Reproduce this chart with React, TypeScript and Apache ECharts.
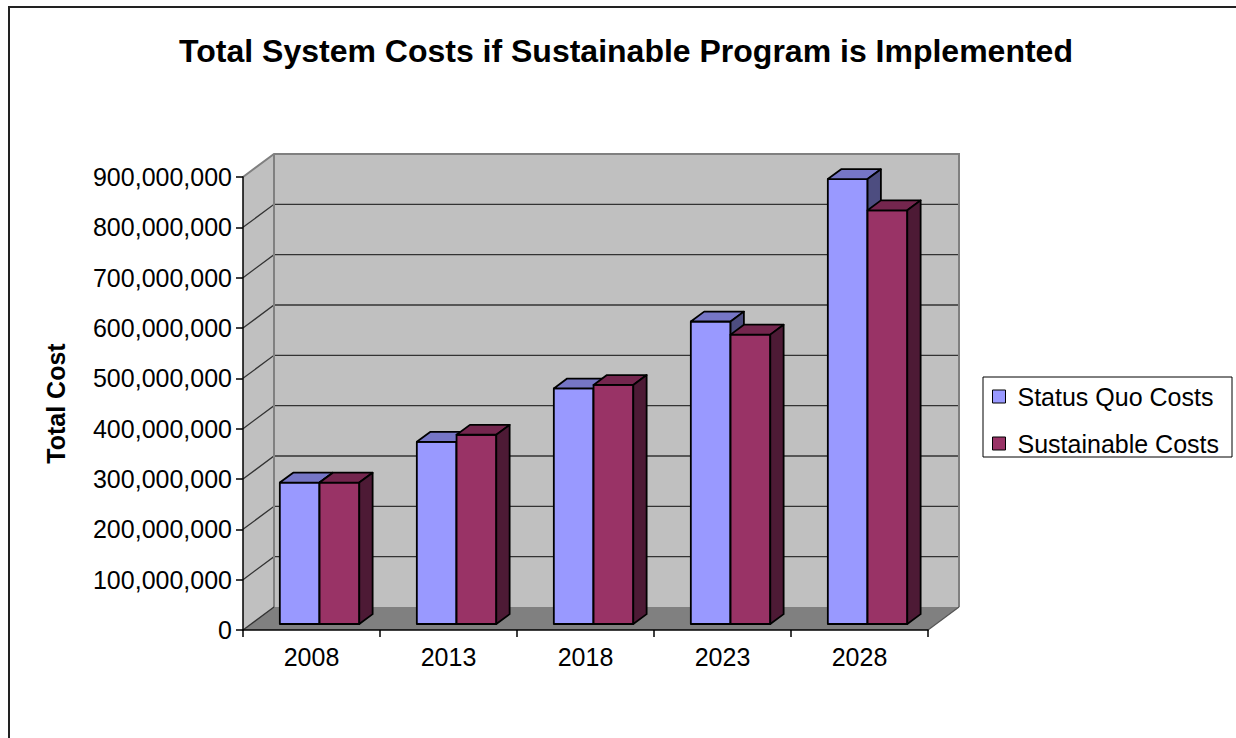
import React, { useEffect, useRef } from "react";
import * as echarts from "echarts";

const chartTitle = "Total System Costs if Sustainable Program is Implemented";
const yAxisTitle = "Total Cost";
const categories = ["2008", "2013", "2018", "2023", "2028"];
const seriesNames = ["Status Quo Costs", "Sustainable Costs"];
const statusQuoCosts = [281000000, 362000000, 468000000, 601000000, 884000000];
const sustainableCosts = [281000000, 376000000, 475000000, 575000000, 822000000];
const yTicks = [0, 100000000, 200000000, 300000000, 400000000, 500000000, 600000000, 700000000, 800000000, 900000000];

const FONT = "'Liberation Sans', Arial, Helvetica, sans-serif";
const WALL_DX = 31;
const WALL_DY = 23;
const BAR_FRONT = 0.26;
const BAR_DEPTH = 0.43;
const BAR_WIDTH_FRAC = 0.29;

const palettes = [
  { front: "#9999ff", top: "#7676c6", side: "#4d4d80" },
  { front: "#993366", top: "#74264e", side: "#4d1a35" },
];

function wallsRenderItem(params: any, api: any) {
  const cs = params.coordSys;
  const x0 = cs.x;
  const x1 = cs.x + cs.width;
  const yBase = api.coord([0, yTicks[0]])[1];
  const yTop = api.coord([0, yTicks[yTicks.length - 1]])[1];
  const dx = WALL_DX;
  const dy = WALL_DY;
  const children: any[] = [];
  children.push({
    type: "polygon",
    shape: { points: [[x0 + dx, yTop - dy], [x1 + dx, yTop - dy], [x1 + dx, yBase - dy], [x0 + dx, yBase - dy]] },
    style: { fill: "#c0c0c0" },
  });
  children.push({
    type: "polygon",
    shape: { points: [[x0, yBase], [x0, yTop], [x0 + dx, yTop - dy], [x0 + dx, yBase - dy]] },
    style: { fill: "#c0c0c0" },
  });
  children.push({
    type: "polygon",
    shape: { points: [[x0, yBase], [x1, yBase], [x1 + dx, yBase - dy], [x0 + dx, yBase - dy]] },
    style: { fill: "#808080" },
  });
  yTicks.slice(1, -1).forEach((v) => {
    const y = api.coord([0, v])[1];
    children.push({
      type: "polyline",
      shape: { points: [[x0, y], [x0 + dx, y - dy], [x1 + dx, y - dy]] },
      style: { stroke: "#333333", lineWidth: 1.3, fill: "none" },
    });
  });
  children.push({
    type: "polyline",
    shape: { points: [[x0, yTop], [x0 + dx, yTop - dy], [x1 + dx, yTop - dy], [x1 + dx, yBase - dy]] },
    style: { stroke: "#808080", lineWidth: 2, fill: "none" },
  });
  children.push({
    type: "line",
    shape: { x1: x0 + dx, y1: yTop - dy, x2: x0 + dx, y2: yBase - dy },
    style: { stroke: "#808080", lineWidth: 2 },
  });
  children.push({
    type: "line",
    shape: { x1: x0, y1: yBase, x2: x0 + dx, y2: yBase - dy },
    style: { stroke: "#333333", lineWidth: 1.3 },
  });
  children.push({
    type: "line",
    shape: { x1: x1, y1: yBase, x2: x1 + dx, y2: yBase - dy },
    style: { stroke: "#555555", lineWidth: 1.2 },
  });
  return { type: "group", children };
}

function makeBarSeries(name: string, values: number[], sideIndex: number) {
  const pal = palettes[sideIndex];
  return {
    type: "custom",
    name,
    z: 3,
    itemStyle: { color: pal.front },
    data: values.map((v, i) => [i, v]),
    renderItem: (params: any, api: any) => {
      const i = api.value(0);
      const v = api.value(1);
      const pt = api.coord([i, v]);
      const base = api.coord([i, 0]);
      const band = api.size([1, 0])[0];
      const w = band * BAR_WIDTH_FRAC;
      const ox = WALL_DX * BAR_FRONT;
      const oy = WALL_DY * BAR_FRONT;
      const bx = WALL_DX * BAR_DEPTH;
      const by = WALL_DY * BAR_DEPTH;
      const left = pt[0] + ox + (sideIndex === 0 ? -w : 0);
      const right = left + w;
      const top = pt[1] - oy;
      const bottom = base[1] - oy;
      const stroke = { stroke: "#000000", lineWidth: 1.8, lineJoin: "round" };
      return {
        type: "group",
        children: [
          {
            type: "rect",
            shape: { x: left, y: top, width: w, height: bottom - top },
            style: { fill: pal.front, ...stroke },
          },
          {
            type: "polygon",
            shape: { points: [[left, top], [right, top], [right + bx, top - by], [left + bx, top - by]] },
            style: { fill: pal.top, ...stroke },
          },
          {
            type: "polygon",
            shape: { points: [[right, top], [right + bx, top - by], [right + bx, bottom - by], [right, bottom]] },
            style: { fill: pal.side, ...stroke },
          },
        ],
      };
    },
  };
}

export default function App() {
  const ref = useRef<HTMLDivElement>(null);
  useEffect(() => {
    if (!ref.current) return;
    const chart = echarts.init(ref.current, undefined, { renderer: "svg" });
    chart.setOption({
      animation: false,
      backgroundColor: "#ffffff",
      textStyle: { fontFamily: FONT, color: "#000000" },
      title: {
        text: chartTitle,
        left: 626,
        top: 35,
        padding: 0,
        textAlign: "center",
        textStyle: { fontFamily: FONT, fontSize: 32, fontWeight: "bold", color: "#000000" },
      },
      legend: {
        orient: "vertical",
        left: 983,
        top: 377,
        padding: [7, 13, 1, 9],
        itemGap: 22,
        itemWidth: 13,
        itemHeight: 13,
        borderColor: "#000000",
        borderWidth: 1,
        icon: "rect",
        selectedMode: false,
        textStyle: { fontFamily: FONT, fontSize: 25, color: "#000000", padding: [0, 0, 0, 7] },
        data: seriesNames.map((n, k) => ({
          name: n,
          itemStyle: { color: palettes[k].front, borderColor: "#000000", borderWidth: 1 },
        })),
      },
      grid: { left: 243, right: 308, top: 177, bottom: 108, containLabel: false },
      xAxis: {
        type: "category",
        data: categories,
        z: 10,
        axisLine: { show: true, lineStyle: { color: "#000000", width: 1.5 } },
        axisTick: { show: true, length: 7, lineStyle: { color: "#000000", width: 1.5 } },
        axisLabel: { color: "#000000", fontSize: 25, margin: 14, fontFamily: FONT },
        splitLine: { show: false },
      },
      yAxis: {
        type: "value",
        min: yTicks[0],
        max: yTicks[yTicks.length - 1],
        interval: yTicks[1] - yTicks[0],
        z: 10,
        name: yAxisTitle,
        nameLocation: "middle",
        nameGap: 175,
        nameRotate: 90,
        nameTextStyle: { fontFamily: FONT, fontSize: 25, fontWeight: "bold", color: "#000000" },
        axisLine: { show: true, lineStyle: { color: "#000000", width: 1.5 } },
        axisTick: { show: true, length: 7, lineStyle: { color: "#000000", width: 1.5 } },
        axisLabel: {
          color: "#000000",
          fontSize: 25,
          margin: 11,
          fontFamily: FONT,
          formatter: (v: number) => v.toLocaleString("en-US"),
        },
        splitLine: { show: false },
      },
      graphic: [
        {
          type: "rect",
          silent: true,
          shape: { x: 9, y: 7, width: 1300, height: 800 },
          style: { fill: "none", stroke: "#222222", lineWidth: 2 },
        },
      ],
      series: [
        {
          type: "custom",
          name: "walls",
          z: 1,
          silent: true,
          data: [[0, 0]],
          renderItem: wallsRenderItem,
        },
        makeBarSeries(seriesNames[0], statusQuoCosts, 0),
        makeBarSeries(seriesNames[1], sustainableCosts, 1),
      ],
    });
    return () => chart.dispose();
  }, []);
  return (
    <div
      ref={ref}
      style={{ position: "absolute", left: 0, top: 0, width: 1236, height: 738, background: "#ffffff" }}
    />
  );
}
